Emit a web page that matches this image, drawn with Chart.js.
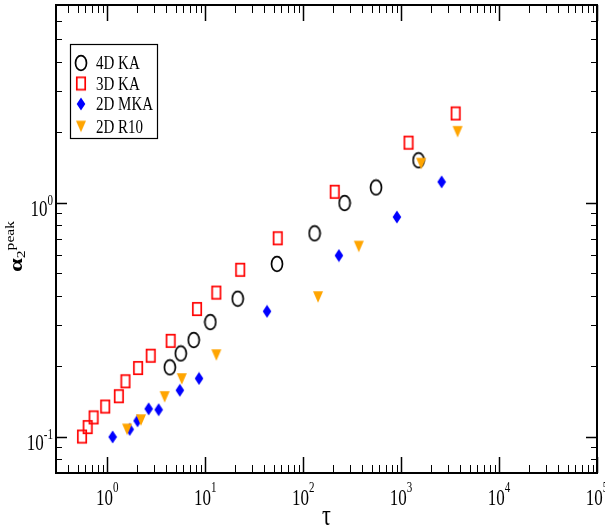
<!DOCTYPE html>
<html><head><meta charset="utf-8">
<script src="https://cdn.jsdelivr.net/npm/chart.js@4"></script>
<style>html,body{margin:0;padding:0;background:#fff}</style>
</head><body>
<canvas id="c" width="605" height="531"></canvas>
<script>
// ---- data ----
const seriesNames = ['4D KA', '3D KA', '2D MKA', '2D R10'];
const ka4dTau   = [4.36, 5.64, 7.64, 11.3, 21.5, 54.1, 131, 265, 555, 1506];
const ka4dAlpha = [0.198, 0.227, 0.259, 0.309, 0.389, 0.548, 0.740, 0.997, 1.162, 1.519];
const ka3dTau   = [0.553, 0.631, 0.726, 0.954, 1.315, 1.535, 2.065, 2.78, 4.44, 8.26, 13.0, 22.8, 55.0, 210, 1191, 3606];
const ka3dAlpha = [0.1002, 0.110, 0.121, 0.1346, 0.149, 0.1726, 0.1966, 0.222, 0.257, 0.3515, 0.413, 0.517, 0.705, 1.114, 1.806, 2.408];
const mka2dTau   = [1.137, 1.696, 2.04, 2.65, 3.35, 5.51, 8.65, 42.8, 232, 906, 2595];
const mka2dAlpha = [0.0998, 0.1075, 0.117, 0.1316, 0.1305, 0.158, 0.1774, 0.3436, 0.595, 0.869, 1.228];
const r10Tau   = [1.596, 2.21, 3.86, 5.77, 13.0, 142, 370, 1603, 3775];
const r10Alpha = [0.1075, 0.1178, 0.148, 0.1766, 0.2234, 0.3955, 0.650, 1.47, 2.01];
const xTickExponents = ['0', '1', '2', '3', '4', '5'];
const yTickExponents = ['-1', '0'];
const xLabel = 'τ';
const yLabelMain = 'α', yLabelSub = '2', yLabelSup = 'peak';

// ---- marker images ----
function mk(w, h, fn) { const c = document.createElement('canvas'); c.width = w; c.height = h; const g = c.getContext('2d'); fn(g); return c; }
const mCircle = mk(14, 18, g => { g.strokeStyle = '#000'; g.lineWidth = 1.7; g.beginPath(); g.ellipse(7, 9, 5.5, 7.3, 0, 0, Math.PI * 2); g.stroke(); });
const mSquare = mk(12, 16, g => { g.strokeStyle = '#ff0000'; g.lineWidth = 1.7; g.strokeRect(1.8, 1.8, 8.4, 12.4); });
const mDiamond = mk(10, 14, g => { g.fillStyle = '#0000ff'; g.beginPath(); g.moveTo(5, 0.5); g.lineTo(9.3, 7); g.lineTo(5, 13.5); g.lineTo(0.7, 7); g.closePath(); g.fill(); });
const mTri = mk(12, 14, g => { g.fillStyle = '#ffa500'; g.beginPath(); g.moveTo(1, 1.2); g.lineTo(11, 1.2); g.lineTo(6, 12.8); g.closePath(); g.fill(); });
const markers = [mCircle, mSquare, mDiamond, mTri];

const toPts = (xs, ys) => xs.map((x, i) => ({ x: x, y: ys[i] }));
const SY = 1.3;
const SERIF = '"Liberation Serif", "Times New Roman", serif';

function txt(ctx, s, x, y, size, align, weight) {
  ctx.save(); ctx.translate(x, y); ctx.scale(1, SY);
  ctx.font = (weight || '') + ' ' + size + 'px ' + SERIF;
  ctx.textAlign = align || 'left'; ctx.textBaseline = 'alphabetic';
  ctx.fillStyle = '#000'; ctx.fillText(s, 0, 0); ctx.restore();
}
function tw(ctx, s, size) { ctx.save(); ctx.font = size + 'px ' + SERIF; const w = ctx.measureText(s).width; ctx.restore(); return w; }

const decor = {
  id: 'decor',
  afterDraw(chart) {
    const ctx = chart.ctx, a = chart.chartArea, xs = chart.scales.x, ys = chart.scales.y;
    ctx.save();
    ctx.strokeStyle = '#000';
    // ticks x
    for (let n = -1; n <= 5; n++) {
      for (let m = 1; m <= 9; m++) {
        const v = m * Math.pow(10, n);
        if (v < xs.min * 0.999 || v > xs.max * 1.001) continue;
        const px = Math.round(xs.getPixelForValue(v)) + 0.5;
        const len = m === 1 ? 16 : 8;
        ctx.lineWidth = m === 1 ? 1.5 : 1;
        ctx.beginPath(); ctx.moveTo(px, a.bottom); ctx.lineTo(px, a.bottom - len);
        ctx.moveTo(px, a.top); ctx.lineTo(px, a.top + len); ctx.stroke();
        if (n === 5) break;
      }
    }
    // ticks y
    for (let n = -2; n <= 0; n++) {
      for (let m = 1; m <= 9; m++) {
        const v = m * Math.pow(10, n);
        if (v < ys.min * 0.999 || v > ys.max * 1.001) continue;
        const py = Math.round(ys.getPixelForValue(v)) + 0.5;
        const len = m === 1 ? 11 : 6;
        ctx.lineWidth = m === 1 ? 1.5 : 1;
        ctx.beginPath(); ctx.moveTo(a.left, py); ctx.lineTo(a.left + len, py);
        ctx.moveTo(a.right, py); ctx.lineTo(a.right - len, py); ctx.stroke();
      }
    }
    // frame
    ctx.lineWidth = 2;
    ctx.strokeRect(a.left, a.top, a.right - a.left, a.bottom - a.top);
    // x tick labels
    xTickExponents.forEach(e => {
      const px = xs.getPixelForValue(Math.pow(10, +e));
      const w1 = tw(ctx, '10', 17), w2 = tw(ctx, e, 11);
      const sx = px - (w1 + w2) / 2;
      txt(ctx, '10', sx, a.bottom + 32, 17);
      txt(ctx, e, sx + w1, a.bottom + 19, 11);
    });
    // y tick labels
    yTickExponents.forEach(e => {
      const py = ys.getPixelForValue(Math.pow(10, +e));
      const w1 = tw(ctx, '10', 17), w2 = tw(ctx, e, 11);
      const sx = a.left - 3 - (w1 + w2);
      txt(ctx, '10', sx, py + 13, 17);
      txt(ctx, e, sx + w1, py + 2, 11);
    });
    // x axis title
    txt(ctx, xLabel, (a.left + a.right) / 2, a.bottom + 52, 22, 'center');
    // y axis title (rotated)
    ctx.save();
    ctx.translate(22, 272); ctx.rotate(-Math.PI / 2); ctx.scale(SY, 1);
    ctx.fillStyle = '#000'; ctx.textBaseline = 'alphabetic'; ctx.textAlign = 'left';
    ctx.font = 'bold 19px ' + SERIF;
    ctx.fillText(yLabelMain, 0, 0);
    let off = ctx.measureText(yLabelMain).width;
    ctx.font = '12px ' + SERIF;
    ctx.fillText(yLabelSub, off, 3);
    off += ctx.measureText(yLabelSub).width;
    ctx.fillText(yLabelSup, off, -8);
    ctx.restore();
    // legend
    ctx.lineWidth = 1.2; ctx.strokeStyle = '#000';
    ctx.strokeRect(70.5, 44.5, 87, 94);
    const rowY = [63, 83.5, 104, 126.5];
    seriesNames.forEach((s, i) => {
      const mkImg = markers[i];
      ctx.drawImage(mkImg, 81 - mkImg.width / 2, rowY[i] - mkImg.height / 2);
      txt(ctx, s, 96, rowY[i] + 6, 15);
    });
    ctx.restore();
  }
};

new Chart(document.getElementById('c'), {
  type: 'scatter',
  data: {
    datasets: [
      { label: seriesNames[0], data: toPts(ka4dTau, ka4dAlpha), pointStyle: mCircle, order: 4 },
      { label: seriesNames[1], data: toPts(ka3dTau, ka3dAlpha), pointStyle: mSquare, order: 3 },
      { label: seriesNames[2], data: toPts(mka2dTau, mka2dAlpha), pointStyle: mDiamond, order: 2 },
      { label: seriesNames[3], data: toPts(r10Tau, r10Alpha), pointStyle: mTri, order: 1 }
    ]
  },
  options: {
    responsive: false, animation: false, devicePixelRatio: 1,
    layout: { padding: { left: 56, top: 4, right: 8, bottom: 58 } },
    scales: {
      x: { type: 'logarithmic', min: 0.3, max: 1e5, display: false },
      y: { type: 'logarithmic', min: 0.07, max: 7, display: false }
    },
    plugins: { legend: { display: false }, tooltip: { enabled: false } }
  },
  plugins: [decor]
});
</script>
</body></html>
